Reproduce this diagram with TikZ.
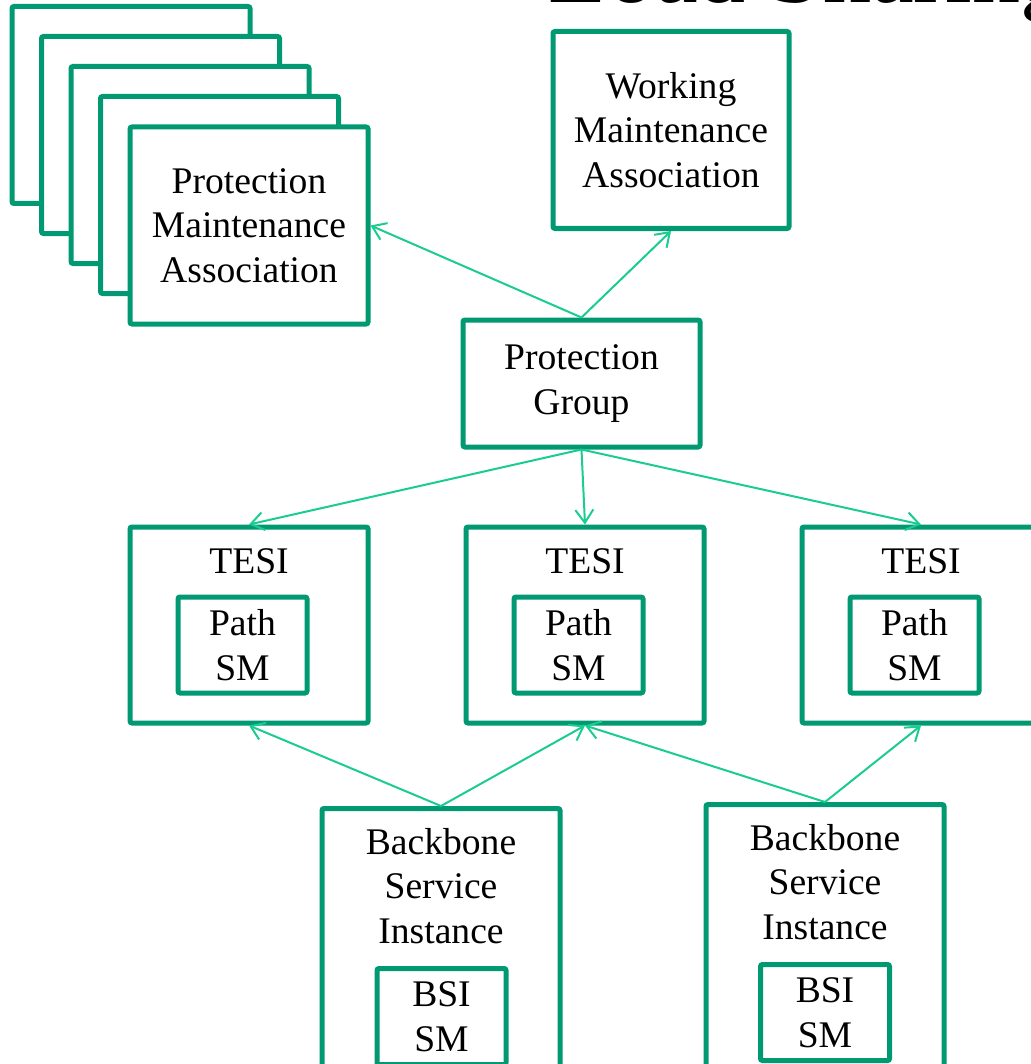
\documentclass[tikz,border=0pt]{standalone}
\usepackage{fontspec}
\setmainfont{Liberation Serif}
\usepackage{tikz}
\usetikzlibrary{arrows.meta, positioning}
\definecolor{boxgreen}{HTML}{009972}
\definecolor{linkgreen}{HTML}{1ACC90}
\tikzset{
    box/.style={rectangle, draw=boxgreen, line width=2.5pt, fill=white, rounded corners=1pt, inner sep=0pt, align=center, font=\fontsize{18.8}{22.3}\selectfont},
    mabox/.style={box, minimum width=119pt, minimum height=98.5pt},
    tesibox/.style={box, minimum width=119pt, minimum height=98pt},
    smbox/.style={box, minimum width=64.5pt, minimum height=48pt},
    bsibox/.style={box, minimum width=119pt, minimum height=160pt, anchor=north},
    txt/.style={inner sep=0pt, align=center, font=\fontsize{18.8}{22.3}\selectfont},
    link/.style={-{Straight Barb[length=6.5pt, width=9pt]}, line width=1pt, draw=linkgreen}
}

\begin{document}
\begin{tikzpicture}[x=0.5pt, y=-0.5pt]
        \useasboundingbox (0,0) rectangle (1031,1064);
        \clip (0,0) rectangle (1031,1064);
        \node[txt, anchor=base west, font=\fontsize{48}{50}\selectfont] (title) at (548,3) {Load Sharing};
        \foreach \k in {0,...,3}
            \node[mabox] (pmaback\k) at ({131+29.5*\k},{105+30*\k}) {};
        \node[mabox] (pma) at (249,225.5) {Protection\\Maintenance\\Association};
        \node[mabox, minimum width=118pt] (wma) at (671,130) {Working\\Maintenance\\Association};
        \node[box, minimum width=118.5pt, minimum height=63.5pt] (pg) at (581.5,383.5) {Protection\\Group};
        \node[tesibox] (tesiL) at (249,625) {};
        \node[tesibox] (tesiM) at (585,625) {};
        \node[tesibox] (tesiR) at (921,625) {};
        \node[txt] (tesiLtxt) at (249,561) {TESI};
        \node[txt] (tesiMtxt) at (585,561) {TESI};
        \node[txt] (tesiRtxt) at (921,561) {TESI};
        \node[smbox] (pathL) at (242.5,645) {Path\\SM};
        \node[smbox] (pathM) at (578.5,645) {Path\\SM};
        \node[smbox] (pathR) at (914.5,645) {Path\\SM};
        \node[bsibox] (bsiL) at (441,806) {};
        \node[bsibox] (bsiR) at (825,802) {};
        \node[txt] (bsiLtxt) at (441,886) {Backbone\\Service\\Instance};
        \node[txt] (bsiRtxt) at (825,882) {Backbone\\Service\\Instance};
        \node[smbox, anchor=north] (bsismL) at (441.5,966) {BSI\\SM};
        \node[smbox, anchor=north] (bsismR) at (825,962) {BSI\\SM};
        \draw[link] (pg.north) -- (pma.east);
        \draw[link] (pg.north) -- (wma.south);
        \draw[link] (pg.south) -- (tesiL.north);
        \draw[link] (pg.south) -- (tesiM.north);
        \draw[link] (pg.south) -- (tesiR.north);
        \draw[link] (bsiL.north) -- (tesiL.south);
        \draw[link] (bsiL.north) -- (tesiM.south);
        \draw[link] (bsiR.north) -- (tesiM.south);
        \draw[link] (bsiR.north) -- (tesiR.south);
    \end{tikzpicture}
\end{document}
